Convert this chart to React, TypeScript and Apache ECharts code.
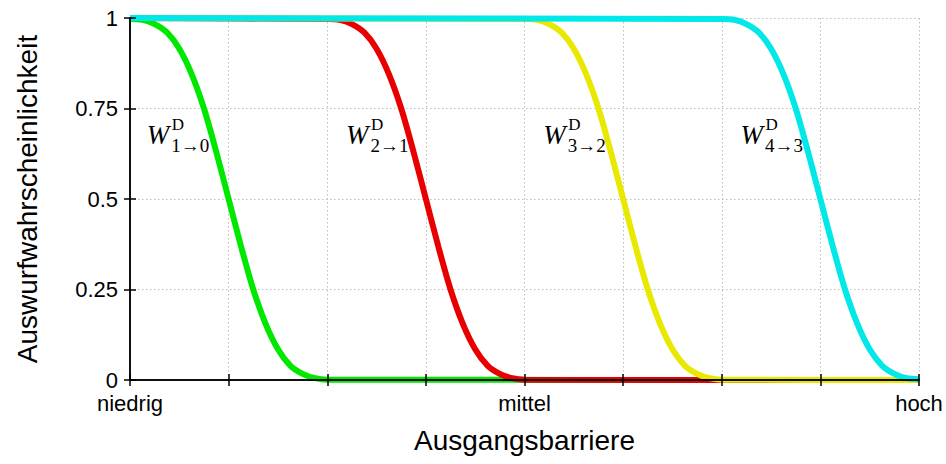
import React, { useEffect, useRef } from "react";
import * as echarts from "echarts";

// Tick labels
const xTickPos = [0, 4, 8];
const xTickNames = ["niedrig", "mittel", "hoch"];
const yTickPos = [0, 0.25, 0.5, 0.75, 1];
const yTickNames = ["0", "0.25", "0.5", "0.75", "1"];

// Series (x positions along the barrier axis, 0..8)
const greenX = [0, 0.125, 0.25, 0.375, 0.5, 0.625, 0.75, 0.875, 1, 1.125, 1.25, 1.375, 1.5, 1.625, 1.75, 1.875, 2, 8];
const greenY = [0.997, 0.995, 0.983, 0.96, 0.915, 0.845, 0.75, 0.63, 0.5, 0.37, 0.25, 0.155, 0.085, 0.04, 0.017, 0.005, 0.001, 0];

const redX = [0, 2, 2.125, 2.25, 2.375, 2.5, 2.625, 2.75, 2.875, 3, 3.125, 3.25, 3.375, 3.5, 3.625, 3.75, 3.875, 4, 8];
const redY = [1, 0.997, 0.995, 0.983, 0.96, 0.915, 0.845, 0.75, 0.63, 0.5, 0.37, 0.25, 0.155, 0.085, 0.04, 0.017, 0.005, 0.001, 0];

const yellowX = [0, 4, 4.125, 4.25, 4.375, 4.5, 4.625, 4.75, 4.875, 5, 5.125, 5.25, 5.375, 5.5, 5.625, 5.75, 5.875, 6, 8];
const yellowY = [1, 0.997, 0.995, 0.983, 0.96, 0.915, 0.845, 0.75, 0.63, 0.5, 0.37, 0.25, 0.155, 0.085, 0.04, 0.017, 0.005, 0.001, 0];

const cyanX = [0, 6, 6.125, 6.25, 6.375, 6.5, 6.625, 6.75, 6.875, 7, 7.125, 7.25, 7.375, 7.5, 7.625, 7.75, 7.875, 8];
const cyanY = [1, 0.997, 0.995, 0.983, 0.96, 0.915, 0.845, 0.75, 0.63, 0.5, 0.37, 0.25, 0.155, 0.085, 0.04, 0.017, 0.005, 0.002];

const seriesColors = ["#00e800", "#e80000", "#e8e800", "#00e8e8"];

// Curve annotations W^D_{i→j}
const labelSubs = ["1\u21920", "2\u21921", "3\u21922", "4\u21923"];
const labelX = [0.18, 2.2, 4.2, 6.2];
const labelY = [0.677, 0.677, 0.677, 0.677];

const SANS = '"Liberation Sans", Arial, Helvetica, sans-serif';
const SERIF = '"Liberation Serif", "Times New Roman", "DejaVu Serif", serif';

function pairs(xs: number[], ys: number[]) {
  return xs.map((x, i) => [x, ys[i]]);
}

export default function App() {
  const ref = useRef<HTMLDivElement>(null);
  useEffect(() => {
    if (!ref.current) return;
    const chart = echarts.init(ref.current, null, { renderer: "svg" });
    const frameLine = { show: true, lineStyle: { color: "#000", width: 1.5 } };
    const frameTick = { show: true, inside: false, length: 6, lineStyle: { color: "#000", width: 1.5 } };
    const grid = { left: 130, right: 27, top: 18, bottom: 84, outerBoundsMode: "none" } as any;
    const lineSeries = [
      pairs(greenX, greenY),
      pairs(redX, redY),
      pairs(yellowX, yellowY),
      pairs(cyanX, cyanY),
    ].map((d, i) => ({
      type: "line",
      data: d,
      xAxisIndex: 0,
      yAxisIndex: 0,
      showSymbol: false,
      smooth: 0.3,
      lineStyle: { color: seriesColors[i], width: 6 },
      itemStyle: { color: seriesColors[i] },
      clip: false,
      z: 2,
    }));
    chart.setOption({
      animation: false,
      backgroundColor: "#fff",
      grid,
      xAxis: [
        {
          type: "value", min: 0, max: 8, interval: 1, position: "bottom",
          axisLine: { show: false }, axisTick: { show: false }, axisLabel: { show: false },
          splitLine: { show: true, lineStyle: { color: "#bdbdbd", type: [1.5, 2.5], width: 1 } },
        },
        {
          type: "value", min: 0, max: 8, interval: 1, position: "top", z: 10,
          axisLine: frameLine, axisTick: frameTick, axisLabel: { show: false }, splitLine: { show: false },
        },
        {
          type: "value", min: 0, max: 8, interval: 1, position: "bottom", z: 10,
          axisLine: frameLine, axisTick: frameTick,
          splitLine: { show: false },
          axisLabel: {
            show: true, margin: 12, color: "#000", fontFamily: SANS, fontSize: 22,
            formatter: (v: number) => {
              const k = xTickPos.indexOf(v);
              return k >= 0 ? xTickNames[k] : "";
            },
          },
          name: "Ausgangsbarriere", nameLocation: "middle", nameGap: 46,
          nameTextStyle: { color: "#000", fontFamily: SANS, fontSize: 28 },
        },
      ],
      yAxis: [
        {
          type: "value", min: 0, max: 1, interval: 0.25, position: "left",
          axisLine: { show: false }, axisTick: { show: false }, axisLabel: { show: false },
          splitLine: { show: true, lineStyle: { color: "#bdbdbd", type: [1.5, 2.5], width: 1 } },
        },
        {
          type: "value", min: 0, max: 1, interval: 0.25, position: "right", z: 10,
          axisLine: frameLine, axisTick: frameTick, axisLabel: { show: false }, splitLine: { show: false },
        },
        {
          type: "value", min: 0, max: 1, interval: 0.25, position: "left", z: 10,
          axisLine: frameLine, axisTick: frameTick, splitLine: { show: false },
          axisLabel: {
            show: true, margin: 12, color: "#000", fontFamily: SANS, fontSize: 22,
            formatter: (v: number) => {
              const k = yTickPos.indexOf(v);
              return k >= 0 ? yTickNames[k] : "";
            },
          },
          name: "Auswurfwahrscheinlichkeit", nameLocation: "middle", nameGap: 89,
          nameTextStyle: { color: "#000", fontFamily: SANS, fontSize: 28 },
        },
      ],
      series: [
        ...lineSeries,
        {
          type: "custom",
          xAxisIndex: 0,
          yAxisIndex: 0,
          silent: true,
          clip: false,
          z: 5,
          data: labelX.map((x, i) => [x, labelY[i]]),
          renderItem: (params: any, api: any) => {
            const p = api.coord([api.value(0), api.value(1)]);
            const sub = labelSubs[params.dataIndex];
            return {
              type: "group",
              children: [
                {
                  type: "text", x: p[0] - 1, y: p[1],
                  style: { text: "W", fontFamily: SERIF, fontStyle: "italic", fontSize: 27, fill: "#000", align: "left", verticalAlign: "middle" },
                },
                {
                  type: "text", x: p[0] + 24, y: p[1] - 10,
                  style: { text: "D", fontFamily: SERIF, fontSize: 17, fill: "#000", align: "left", verticalAlign: "middle" },
                },
                {
                  type: "text", x: p[0] + 23.5, y: p[1] + 11,
                  style: { text: sub, fontFamily: SERIF, fontSize: 19, fill: "#000", align: "left", verticalAlign: "middle" },
                },
              ],
            };
          },
        },
      ],
    });
    return () => chart.dispose();
  }, []);
  return <div ref={ref} style={{ position: "fixed", left: 0, top: 0, width: 946, height: 464 }} />;
}
